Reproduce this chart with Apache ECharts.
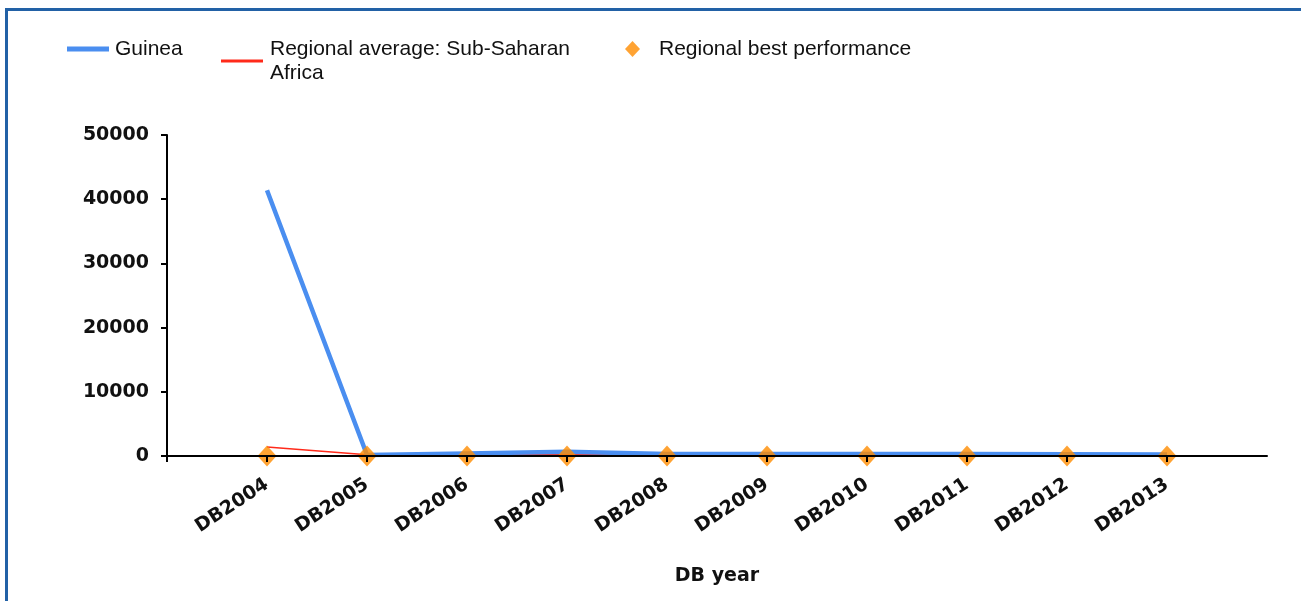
<!DOCTYPE html>
<html>
<head>
<meta charset="utf-8">
<script src="https://cdn.jsdelivr.net/npm/echarts@6/dist/echarts.min.js"></script>
<style>
html,body{margin:0;padding:0;background:#fff;}
#frame{position:absolute;left:5px;top:8px;width:1296px;height:593px;border-top:3px solid #2261a6;border-left:3px solid #2261a6;box-sizing:border-box;}
#chart{position:absolute;left:0;top:0;width:1301px;height:601px;}
</style>
</head>
<body>
<div id="frame"></div>
<div id="chart"></div>
<script>
// Categories (padded with empty slots at both ends, as in the reference layout)
var categories = ['', 'DB2004', 'DB2005', 'DB2006', 'DB2007', 'DB2008', 'DB2009', 'DB2010', 'DB2011', 'DB2012', 'DB2013', ''];
var guinea = [null, 41400, 150, 400, 650, 300, 330, 330, 330, 290, 250, null];
var regionalAverage = [null, 1400, 180, 200, 220, 200, 200, 190, 190, 180, 170, null];
var regionalBest = [null, 5, 5, 5, 5, 5, 5, 5, 5, 5, 5, null];
var yTicks = { min: 0, max: 50000, interval: 10000 };

var nameGuinea = 'Guinea';
var nameAvg = 'Regional average: Sub-Saharan Africa';
var nameBest = 'Regional best performance';

var chart = echarts.init(document.getElementById('chart'));
var legendText = { fontFamily: 'Liberation Sans', fontSize: 21, color: '#111', lineHeight: 24 };
chart.setOption({
  animation: false,
  backgroundColor: 'transparent',
  legend: [
    { data: [{ name: nameGuinea, icon: 'rect' }], left: 62, top: 32, itemWidth: 42, itemHeight: 5,
      textStyle: Object.assign({ padding: [0, 0, 0, 1] }, legendText), selectedMode: false },
    { data: [{ name: nameAvg, icon: 'rect' }], left: 216, top: 32, itemWidth: 42, itemHeight: 3,
      formatter: function () { return 'Regional average: Sub-Saharan\nAfrica'; },
      textStyle: Object.assign({ padding: [0, 0, 0, 2] }, legendText), selectedMode: false },
    { data: [{ name: nameBest, icon: 'diamond' }], left: 620, top: 32, itemWidth: 15, itemHeight: 16,
      textStyle: Object.assign({ padding: [0, 0, 0, 14] }, legendText), selectedMode: false }
  ],
  grid: { left: 167, right: 34, top: 135, bottom: 145, containLabel: false },
  xAxis: {
    type: 'category',
    data: categories,
    boundaryGap: false,
    z: 10,
    name: 'DB year',
    nameLocation: 'middle',
    nameGap: 111,
    nameTextStyle: { fontFamily: 'DejaVu Sans', fontWeight: 'bold', fontSize: 19, color: '#111' },
    axisLine: { lineStyle: { color: '#000', width: 2 } },
    axisTick: { show: true, length: 6, lineStyle: { color: '#000', width: 2 },
      interval: function (i) { return i < categories.length - 1; } },
    axisLabel: { rotate: 33, margin: 27, interval: 0, fontFamily: 'DejaVu Sans', fontWeight: 'bold', fontSize: 19, color: '#111' },
    splitLine: { show: false }
  },
  yAxis: {
    type: 'value',
    min: yTicks.min, max: yTicks.max, interval: yTicks.interval,
    z: 10,
    axisLine: { show: true, lineStyle: { color: '#000', width: 2 } },
    axisTick: { show: true, length: 6, lineStyle: { color: '#000', width: 2 } },
    axisLabel: { margin: 18, fontFamily: 'DejaVu Sans', fontWeight: 'bold', fontSize: 19, color: '#111',
      formatter: function (v) { return String(v); } },
    splitLine: { show: false }
  },
  series: [
    { name: nameAvg, type: 'line', data: regionalAverage, showSymbol: false, symbol: 'none',
      lineStyle: { color: '#ff2a1a', width: 1.5 }, itemStyle: { color: '#ff2a1a' }, z: 2 },
    { name: nameGuinea, type: 'line', data: guinea, showSymbol: false, symbol: 'none',
      lineStyle: { color: '#4a8ef0', width: 4.5 }, itemStyle: { color: '#4a8ef0' }, z: 3 },
    { name: nameBest, type: 'scatter', data: regionalBest, symbol: 'diamond', symbolSize: [19, 21],
      itemStyle: { color: '#ff8c00' }, z: 4 }
  ]
});
</script>
</body>
</html>
